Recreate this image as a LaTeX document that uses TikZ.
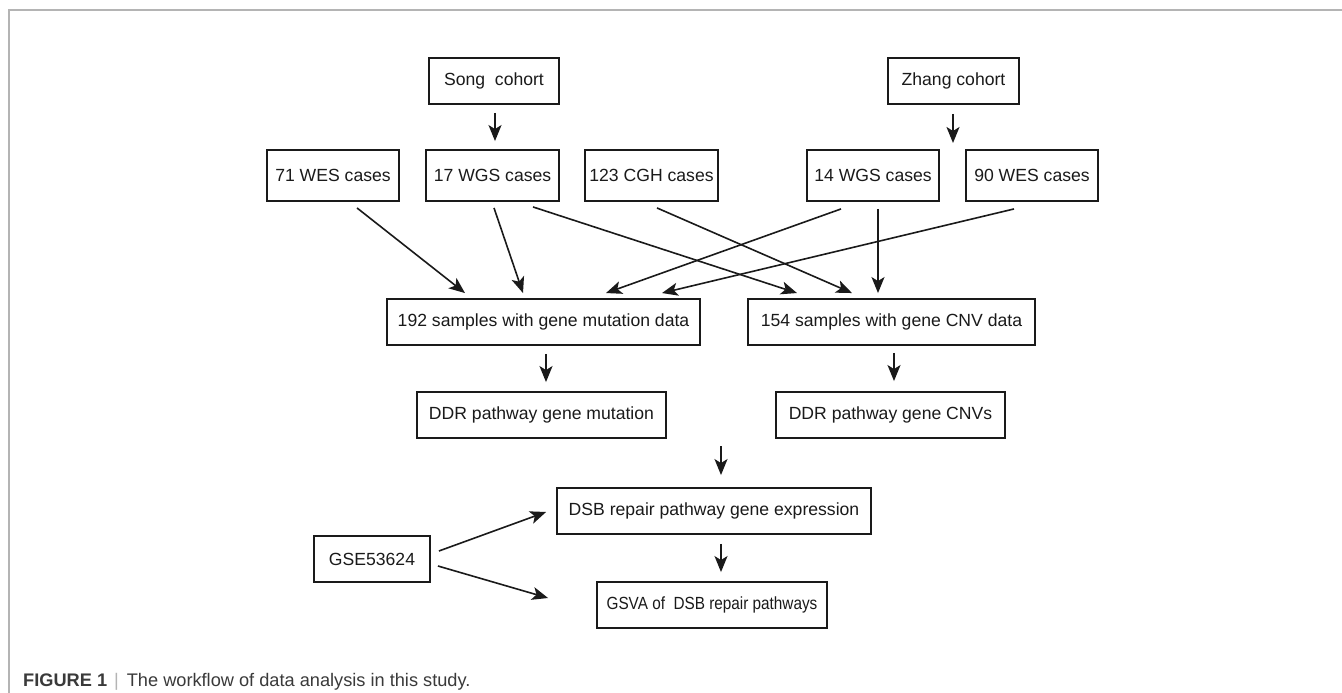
\documentclass[tikz,border=0pt]{standalone}
\usepackage{fontspec}
\usepackage{graphicx}
\setmainfont{Liberation Sans}
\usetikzlibrary{arrows.meta,calc}
\definecolor{ink}{HTML}{1A1A1A}
\definecolor{framegray}{HTML}{B4B4B4}
\definecolor{capgray}{HTML}{3A3A3A}
\begin{document}
\begin{tikzpicture}[x=1pt,y=-1pt,
  box/.style={draw=ink, line width=1.9pt, minimum height=46pt, inner sep=0pt, text=ink,
              font=\fontsize{17.6}{20}\selectfont},
  tallbox/.style={box, minimum height=51pt},
  arr/.style={draw=ink, line width=1.6pt, -{Stealth[length=16pt,width=13pt,inset=4pt]}},
]
\useasboundingbox (0,0) rectangle (1342,693);
\fill[white] (0,0) rectangle (1342,693);
\draw[framegray, line width=1.2pt] (9,693) -- (9,10) -- (1342,10);

% top row
\node[box, minimum width=130pt] (song)  at (494,81)    {Song\ \ cohort};
\node[box, minimum width=131pt] (zhang) at (953.5,81)  {Zhang cohort};
\coordinate (zgap) at (953,143);

% second row
\node[tallbox, minimum width=132pt] (wes71) at (333,175.5)  {71 WES cases};
\node[tallbox, minimum width=133pt] (wgs17) at (492.5,175.5){17 WGS cases};
\node[tallbox, minimum width=133pt] (cgh)   at (651.5,175.5){123 CGH cases};
\node[tallbox, minimum width=132pt] (wgs14) at (873,175.5)  {14 WGS cases};
\node[tallbox, minimum width=132pt] (wes90) at (1032,175.5) {90 WES cases};

% third row
\node[box, minimum width=313pt] (mut192) at (543.5,322) {192 samples with gene mutation data};
\node[box, minimum width=287pt] (cnv154) at (891.5,322) {154 samples with gene CNV data};

% fourth row
\node[box, minimum width=249pt] (ddrmut) at (541.5,415) {DDR pathway gene mutation};
\node[box, minimum width=229pt] (ddrcnv) at (890.5,415) {DDR pathway gene CNVs};
\coordinate (ddrmid) at (721,446);

% lower part
\node[box, minimum width=314pt] (dsb)  at (714,511) {DSB repair pathway gene expression};
\node[box, minimum width=230pt] (gsva) at (712,605) {\scalebox{0.87}[1]{GSVA of\ \ DSB repair pathways}};
\node[box, minimum width=116pt] (gse)  at (372,559) {GSE53624};

% connectors
\draw[arr] ($(song.south)+(1,8)$) -- ($(wgs17.north)+(2.5,-8)$);
\draw[arr] ($(zhang.south)+(-0.5,9)$) -- (zgap);

\draw[arr] ($(wes71.south)+(24,6)$)   -- ($(mut192.north)+(-78.5,-5)$);
\draw[arr] ($(wgs17.south)+(1.5,6)$)  -- ($(mut192.north)+(-20.5,-5)$);
\draw[arr] ($(wgs17.south)+(40.5,5)$) -- ($(cnv154.north)+(-94.5,-5)$);
\draw[arr] ($(cgh.south)+(5.5,6)$)    -- ($(cnv154.north)+(-39.5,-5)$);
\draw[arr] ($(wgs14.south)+(-32,7)$)  -- ($(mut192.north)+(62.5,-5)$);
\draw[arr] ($(wgs14.south)+(5,7)$)    -- ($(cnv154.north)+(-13.5,-5)$);
\draw[arr] ($(wes90.south)+(-18,7)$)  -- ($(mut192.north)+(118.5,-5)$);

\draw[arr] ($(mut192.south)+(2.5,8)$) -- ($(ddrmut.north)+(4.5,-9)$);
\draw[arr] ($(cnv154.south)+(2.5,7)$) -- ($(ddrcnv.north)+(3.5,-10)$);
\draw[arr] (ddrmid) -- ($(dsb.north)+(7,-12)$);
\draw[arr] ($(dsb.south)+(7,9)$) -- ($(gsva.north)+(9,-9)$);

\draw[arr] ($(gse.east)+(8,-8)$) -- ($(dsb.west)+(-10,1)$);
\draw[arr] ($(gse.east)+(7,7)$)  -- ($(gsva.west)+(-48,-7)$);

% caption
\node[anchor=base west, inner sep=0pt, text=capgray, font=\fontsize{18.2}{20}\selectfont] (cap) at (23,686)
  {\textbf{FIGURE 1}\hspace{7pt}\textcolor{framegray}{|}\hspace{8pt}The workflow of data analysis in this study.};
\end{tikzpicture}
\end{document}
